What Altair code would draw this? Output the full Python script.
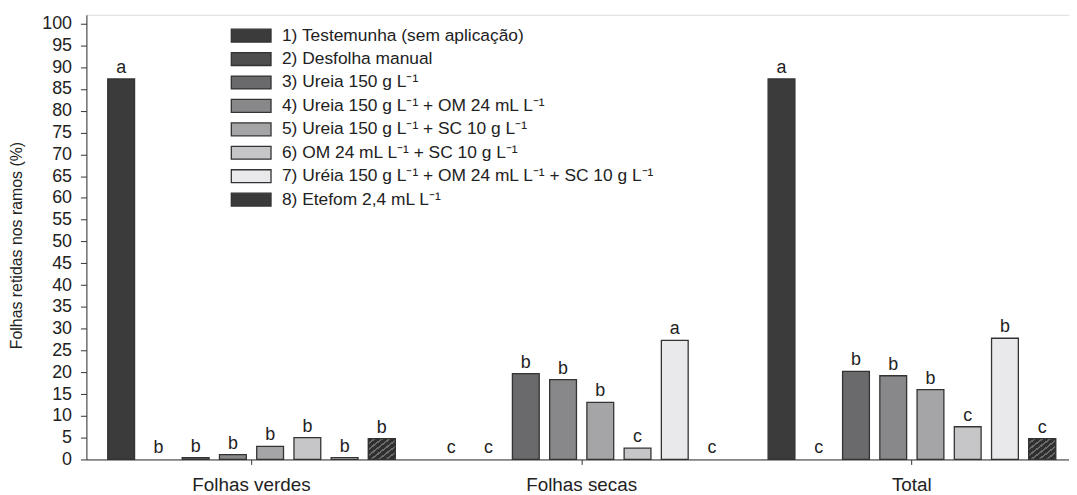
import altair as alt
import pandas as pd

groups = ["Folhas verdes", "Folhas secas", "Total"]
treatments = [
    "1) Testemunha (sem aplicação)",
    "2) Desfolha manual",
    "3) Ureia 150 g L⁻¹",
    "4) Ureia 150 g L⁻¹ + OM 24 mL L⁻¹",
    "5) Ureia 150 g L⁻¹ + SC 10 g L⁻¹",
    "6) OM 24 mL L⁻¹ + SC 10 g L⁻¹",
    "7) Uréia 150 g L⁻¹ + OM 24 mL L⁻¹ + SC 10 g L⁻¹",
    "8) Etefom 2,4 mL L⁻¹",
]
verdes = [87.3, 0.0, 0.4, 1.1, 3.0, 5.0, 0.4, 4.8]
secas = [0.0, 0.0, 19.7, 18.3, 13.1, 2.6, 27.3, 0.0]
total = [87.3, 0.0, 20.2, 19.2, 16.0, 7.5, 27.8, 4.8]
letters_verdes = ["a", "b", "b", "b", "b", "b", "b", "b"]
letters_secas = ["c", "c", "b", "b", "b", "c", "a", "c"]
letters_total = ["a", "c", "b", "b", "b", "c", "b", "c"]
colors = ["#3b3b3b", "#4e4e4f", "#6a6a6c", "#88888b", "#a5a5a7", "#c6c6c8", "#e9e9eb", "#3a3a3a"]
y_ticks = list(range(0, 101, 5))

rows = []
for g, vals, lets in zip(groups, [verdes, secas, total], [letters_verdes, letters_secas, letters_total]):
    for t, v, l in zip(treatments, vals, lets):
        rows.append({"group": g, "treatment": t, "value": v, "letter": l})
df = pd.DataFrame(rows)

FONT = "Liberation Sans"

x_enc = alt.X(
    "group:N", sort=groups, title=None,
    scale=alt.Scale(range=[0, 998], paddingInner=0, paddingOuter=0),
    axis=alt.Axis(labelFontSize=19, labelAngle=0, tickSize=5, labelPadding=11,
                  domainColor="#333333", tickColor="#333333", labelColor="#222222",
                  labelFont=FONT),
)
xo_enc = alt.XOffset("treatment:N", sort=treatments,
                     scale=alt.Scale(domain=treatments, paddingInner=0.28, paddingOuter=0.573))
y_enc = alt.Y(
    "value:Q", scale=alt.Scale(domain=[0, 102], nice=False),
    axis=alt.Axis(values=y_ticks, labelFontSize=18, tickSize=6, labelPadding=9,
                  domainColor="#333333", tickColor="#333333", labelColor="#222222",
                  grid=False, title="Folhas retidas nos ramos (%)", titleFontSize=16,
                  titleFontWeight="normal", titleColor="#222222", titleFont=FONT,
                  labelFont=FONT, titleX=-70, titleY=232, titleAngle=-90,
                  titleAlign="center", titleBaseline="middle"),
)

bars = alt.Chart(df).transform_filter(alt.datum.value > 0).mark_bar(
    stroke="#333333", strokeWidth=1.3
).encode(
    x=x_enc, xOffset=xo_enc, y=y_enc,
    color=alt.Color(
        "treatment:N", sort=treatments,
        scale=alt.Scale(domain=treatments, range=colors),
        legend=alt.Legend(
            orient="none", legendX=155, legendY=10, title=None, padding=0,
            symbolType="M-2,-0.65L2,-0.65L2,0.65L-2,0.65Z", symbolSize=400,
            symbolStrokeColor="#333333", symbolStrokeWidth=1.3, symbolOpacity=1,
            labelFontSize=17.5, labelFont=FONT, labelColor="#222222", labelOffset=20,
            labelLimit=600, rowPadding=2.6,
        ),
    ),
)

stops = []
N = 7
for i in range(N):
    stops.append(alt.GradientStop(offset=i / N, color="#2f2f2f"))
    stops.append(alt.GradientStop(offset=(i + 0.65) / N, color="#2f2f2f"))
    stops.append(alt.GradientStop(offset=(i + 0.65) / N, color="#6a6a6a"))
    stops.append(alt.GradientStop(offset=(i + 1) / N, color="#6a6a6a"))
hatch = alt.LinearGradient(gradient="linear", stops=stops, x1=0, y1=0, x2=1, y2=1)

hatched = alt.Chart(df).transform_filter(
    (alt.datum.treatment == treatments[7]) & (alt.datum.value > 0)
).mark_bar(color=hatch, stroke="#333333", strokeWidth=1.3).encode(
    x=x_enc, xOffset=xo_enc, y=y_enc,
)

labels = alt.Chart(df).mark_text(
    dy=-6, baseline="alphabetic", fontSize=18, font=FONT, color="#222222"
).encode(
    x=x_enc, xOffset=xo_enc, y=y_enc, text="letter:N",
)

chart = alt.layer(bars, hatched, labels).properties(
    width=990, height=448,
    autosize=alt.AutoSizeParams(type="none"),
    padding={"left": 79, "top": 5, "right": 0, "bottom": 38},
).configure_view(stroke=None).configure(background="white")

chart.save("out.html", embed_options={"renderer": "svg", "actions": False})
